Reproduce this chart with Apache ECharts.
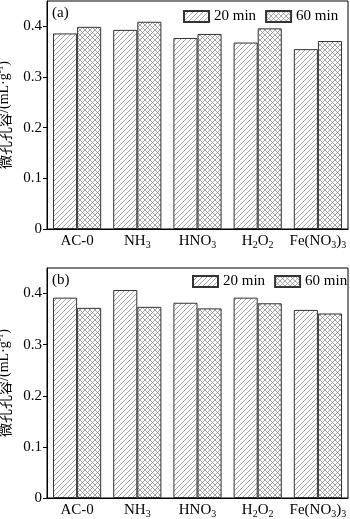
<!DOCTYPE html>
<html><head><meta charset="utf-8">
<script src="https://cdn.jsdelivr.net/npm/echarts@6/dist/echarts.min.js"></script>
<style>html,body{margin:0;padding:0;background:#fff}#c{width:350px;height:519px}</style>
</head><body><div id="c"></div>
<script>
const categories = ['AC-0','NH3','HNO3','H2O2','Fe(NO3)3'];
const seriesNames = ['20 min','60 min'];
const a20 = [0.386,0.393,0.377,0.368,0.355];
const a60 = [0.399,0.409,0.385,0.396,0.371];
const b20 = [0.392,0.407,0.382,0.392,0.368];
const b60 = [0.372,0.374,0.371,0.381,0.361];
const yTicks = [0,0.1,0.2,0.3,0.4];

function makePattern(cross){
  const s=5, c=document.createElement('canvas'); c.width=s; c.height=s;
  const x=c.getContext('2d'); x.fillStyle='#fff'; x.fillRect(0,0,s,s);
  x.strokeStyle='#808080'; x.lineWidth=0.7;
  const seg=(a,b,c2,d)=>{x.beginPath();x.moveTo(a,b);x.lineTo(c2,d);x.stroke();};
  seg(-1,s+1,s+1,-1); seg(-1,1,1,-1); seg(s-1,s+1,s+1,s-1);
  if(cross){ seg(-1,-1,s+1,s+1); seg(s-1,-1,s+1,1); seg(-1,s-1,1,s+1); }
  return {image:c, repeat:'repeat'};
}
const pHatch = makePattern(false), pCross = makePattern(true);

const FONT = '"Liberation Serif","Times New Roman",serif';
function catFmt(v){
  let out='', m;
  const re=/([A-Za-z\(\)\-]+|[0-9]+)/g; let prev='';
  while((m=re.exec(v))){
    const t=m[0];
    if(/^[0-9]+$/.test(t) && prev && /[A-Za-z\)]$/.test(prev)) out+='{s|'+t+'}';
    else out+='{n|'+t+'}';
    prev=t;
  }
  return out;
}
const rich = {
  n:{fontSize:15,fontFamily:FONT,color:'#000',lineHeight:17},
  s:{fontSize:10,fontFamily:FONT,color:'#000',padding:[8,0,0,0],lineHeight:17}
};
const grids=[{left:47,top:1,width:301,height:228},{left:47,top:268,width:301,height:230}];
const xAxes=[], yAxes=[], series=[], legends=[];
const data=[[a20,a60],[b20,b60]];
grids.forEach((g,i)=>{
  xAxes.push({type:'category',gridIndex:i,data:categories,
    axisLine:{lineStyle:{color:'#000',width:1}},axisTick:{show:false},
    axisLabel:{interval:0,hideOverlap:false,margin:4,formatter:catFmt,rich:rich}});
  yAxes.push({type:'value',gridIndex:i,min:0,max:0.45,interval:0.1,
    splitLine:{show:false},
    axisLine:{show:true,lineStyle:{color:'#000',width:1}},
    axisTick:{show:true,length:4,lineStyle:{color:'#000'}},
    axisLabel:{showMaxLabel:false,fontSize:15,fontFamily:FONT,color:'#000',margin:5,
      formatter:v=>yTicks.some(t=>Math.abs(t-v)<1e-9)?String(+v.toFixed(1)):''},
    name:'{c|微孔孔容}{t|/(mL·g}{p|-1}{t|)}',nameLocation:'middle',nameGap:32,
    nameTextStyle:{padding:[0,0,0,0],rich:{
      c:{fontSize:14,fontFamily:'"Noto Sans CJK SC"',color:'#000',lineHeight:15},
      t:{fontSize:14,fontFamily:FONT,color:'#000',lineHeight:15},
      p:{fontSize:9,fontFamily:FONT,color:'#000',padding:[0,0,7,0],lineHeight:15}}}});
  data[i].forEach((d,j)=>{
    series.push({type:'bar',name:seriesNames[j],xAxisIndex:i,yAxisIndex:i,data:d,
      barGap:'0%',barCategoryGap:'20%',
      itemStyle:{color:j?pCross:pHatch,borderColor:'#333',borderWidth:1}});
  });
});
const legStyle={itemWidth:25,itemHeight:11,itemGap:9,icon:'rect',orient:'horizontal',width:320,
  textStyle:{fontSize:15,fontFamily:FONT,color:'#000'},data:seriesNames,selectedMode:false};
legends.push(Object.assign({top:4,left:178},legStyle));
legends.push(Object.assign({top:269,left:187},legStyle));
const chart=echarts.init(document.getElementById('c'),null,{renderer:'canvas'});
chart.setOption({
  animation:false,
  grid:grids.map(g=>Object.assign({show:true,borderColor:'#000',borderWidth:1,containLabel:false,outerBoundsMode:'none'},g)),
  xAxis:xAxes,yAxis:yAxes,series:series,legend:legends,
  graphic:[
    {type:'text',left:52,top:6,style:{text:'(a)',fontSize:15,fontFamily:FONT,fill:'#000'}},
    {type:'text',left:52,top:273,style:{text:'(b)',fontSize:15,fontFamily:FONT,fill:'#000'}}
  ]
});
</script></body></html>
